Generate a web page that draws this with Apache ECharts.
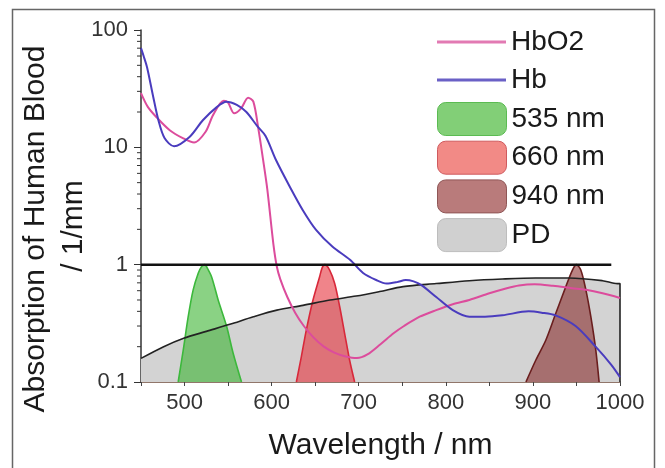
<!DOCTYPE html>
<html><head><meta charset="utf-8">
<script src="https://cdn.jsdelivr.net/npm/echarts@6/dist/echarts.min.js"></script>
<style>html,body{margin:0;padding:0;background:#fff}#c{width:665px;height:468px}</style>
</head><body><div id="c"></div>
<script>
// Series values: [wavelength nm, absorption 1/mm]
const hbo2 = [[450,29],[458,22],[468,18],[483,14],[498,12],[511,11],[524,13.5],[533,19],[545,25],[550,24],[557,19.5],[565,21.5],[573,26.5],[579,24.5],[585,14],[590,8],[595,4.4],[602,1.5],[606,0.96],[610,0.75],[618,0.53],[627,0.39],[637,0.3],[648,0.24],[660,0.2],[672,0.178],[684,0.166],[698,0.16],[710,0.172],[725,0.21],[740,0.26],[752,0.3],[770,0.36],[789,0.41],[808,0.46],[827,0.5],[850,0.57],[870,0.63],[884,0.665],[902,0.68],[923,0.66],[945,0.63],[961,0.61],[980,0.57],[1000,0.52]];
const hb = [[450,70],[453,60],[457,48],[464,27],[470,17],[477,12],[488,10.2],[506,12.3],[521,17],[537,22],[548,24.5],[560,23],[571,20],[584,15],[593,12.5],[605,7.8],[621,4.6],[636,2.9],[651,1.98],[670,1.42],[690,1.1],[705,0.85],[720,0.74],[732,0.69],[744,0.71],[754,0.74],[763,0.72],[772,0.67],[789,0.53],[808,0.41],[827,0.36],[845,0.36],[865,0.37],[895,0.4],[910,0.39],[926,0.37],[949,0.3],[972,0.2],[990,0.14],[1000,0.11]];
const pd = [[450,0.159],[476,0.2],[499,0.236],[525,0.27],[552,0.31],[579,0.36],[606,0.41],[636,0.45],[667,0.5],[697,0.54],[724,0.59],[751,0.65],[789,0.69],[827,0.73],[865,0.755],[903,0.77],[942,0.77],[980,0.73],[997,0.69],[1000,0.69],[1000,0.1]];
const led535 = [[492.7,0.1],[498.5,0.187],[504.2,0.36],[509.9,0.61],[515.7,0.845],[519.5,0.96],[523.3,1.0],[525.3,0.96],[531,0.79],[538.6,0.5],[548.2,0.3],[555.8,0.176],[565.4,0.1]];
const led660 = [[628.4,0.1],[634.1,0.164],[639.8,0.277],[647.5,0.5],[655.1,0.79],[658,0.94],[660.9,1.0],[666.6,0.9],[672.4,0.69],[678.1,0.44],[683.8,0.26],[689.5,0.154],[695.3,0.1]];
const led940 = [[892,0.1],[903.4,0.154],[914.9,0.228],[926.3,0.385],[937.8,0.65],[945.4,0.9],[950,1.0],[955,0.9],[960.8,0.61],[966.5,0.36],[972.2,0.187],[976,0.1]];
const refLine = [[450,1],[990,1]];
const yMinorTicks = [0.2,0.3,0.4,0.5,0.6,0.7,0.8,0.9,2,3,4,5,6,7,8,9,20,30,40,50,60,70,80,90];
const xTickLabels = [500,600,700,800,900,1000];
const lineNames = ['HbO2','Hb'];
const boxNames = ['535 nm','660 nm','940 nm','PD'];

const FONT = 'Liberation Sans, Arial, sans-serif';
const chart = echarts.init(document.getElementById('c'), null, {renderer:'canvas'});
const bandSeries = (name, data, fill, stroke, z) => ({
  name, type:'line', data, smooth:0.3, showSymbol:false, symbol:'none', z,
  lineStyle:{color:stroke, width:1.6}, itemStyle:{color:fill},
  areaStyle:{color:fill, origin:'start', opacity:1}
});
chart.setOption({
  animation:false,
  backgroundColor:'#fff',
  grid:{left:141, right:45, top:30, bottom:86},
  xAxis:{type:'value', min:450, max:1000, interval:50,
    name:'Wavelength / nm', nameLocation:'middle', nameGap:49,
    nameTextStyle:{fontSize:30, color:'#1a1a1a', fontFamily:FONT},
    axisLine:{lineStyle:{color:'#6e4a3a', width:1.5}},
    axisTick:{show:true, length:4, inside:false, lineStyle:{color:'#444'}},
    axisLabel:{fontSize:22, color:'#333', fontFamily:FONT, margin:10,
      formatter:v => xTickLabels.includes(v) ? String(v) : ''},
    splitLine:{show:false}},
  yAxis:{type:'log', logBase:10, min:0.1, max:100,
    axisLine:{show:true, lineStyle:{color:'#333', width:1.5}},
    axisTick:{show:true, length:7, lineStyle:{color:'#333'}},
    axisLabel:{fontSize:22, color:'#333', fontFamily:FONT, margin:13,
      formatter:v => String(+(+v).toPrecision(3))},
    splitLine:{show:false}},
  legend:[
    {data:lineNames.map((n,i)=>({name:n, icon:'rect', itemStyle:{color:['#e27ab3','#6a60c6'][i]}})),
      orient:'vertical', left:432, top:20, itemWidth:69, itemHeight:3, itemGap:4, selectedMode:false,
      textStyle:{fontSize:28, lineHeight:34, color:'#1a1a1a', fontFamily:FONT}},
    {data:boxNames.map((n,i)=>({name:n, icon:'roundRect',
        itemStyle:{color:['#82cf77','#f28a86','#b97b7b','#d0d0d0'][i], borderColor:['#5bbb52','#cf5a5e','#8f5656','#bdbdbd'][i], borderWidth:1}})),
      orient:'vertical', left:432, top:97, itemWidth:69, itemHeight:33, itemGap:4.7, selectedMode:false,
      textStyle:{fontSize:28, lineHeight:33, color:'#1a1a1a', fontFamily:FONT}}
  ],
  graphic:[
    {type:'rect', shape:{x:12.5, y:9.5, width:642, height:470}, style:{fill:'none', stroke:'#666', lineWidth:1.5}, silent:true, z:100},
    {type:'text', x:36, y:229, rotation:Math.PI/2, style:{text:'Absorption of Human Blood', font:'30px '+FONT, fill:'#1a1a1a', align:'center', verticalAlign:'middle'}},
    {type:'text', x:74, y:226, rotation:Math.PI/2, style:{text:'/ 1/mm', font:'30px '+FONT, fill:'#1a1a1a', align:'center', verticalAlign:'middle'}}
  ],
  series:[
    {name:'PD', type:'line', data:pd, smooth:0.3, showSymbol:false, symbol:'none', z:1,
      lineStyle:{width:0, color:'#d3d3d3'}, itemStyle:{color:'#d3d3d3'}, areaStyle:{color:'#d3d3d3', origin:'start', opacity:1}},
    bandSeries('535 nm', led535, 'rgba(60,180,50,0.6)', '#3cb83c', 2),
    bandSeries('660 nm', led660, 'rgba(230,50,60,0.6)', '#d8283a', 2),
    bandSeries('940 nm', led940, 'rgba(130,30,30,0.55)', '#6a1e1e', 2),
    {name:'PD line', type:'line', data:pd, smooth:0.3, showSymbol:false, symbol:'none', z:3,
      lineStyle:{width:1.6, color:'#222'}},
    {name:'HbO2', type:'line', data:hbo2, smooth:0.3, showSymbol:false, symbol:'none', z:4,
      lineStyle:{width:2, color:'#dc4c9c'}, itemStyle:{color:'#dc4c9c'}},
    {name:'Hb', type:'line', data:hb, smooth:0.3, showSymbol:false, symbol:'none', z:4,
      lineStyle:{width:2, color:'#4a3cbe'}, itemStyle:{color:'#4a3cbe'}},
    {name:'ref', type:'line', data:refLine, showSymbol:false, symbol:'none', z:5,
      lineStyle:{width:2.5, color:'#111'}},
    {name:'minor', type:'custom', data:yMinorTicks.map(v=>[450,v]), clip:false, z:6, silent:true,
      renderItem:(params, api)=>{
        const p = api.coord([api.value(0), api.value(1)]);
        return {type:'line', shape:{x1:p[0]-4, y1:p[1], x2:p[0], y2:p[1]}, style:{stroke:'#333', lineWidth:1}};
      }}
  ]
});
</script>
</body></html>
